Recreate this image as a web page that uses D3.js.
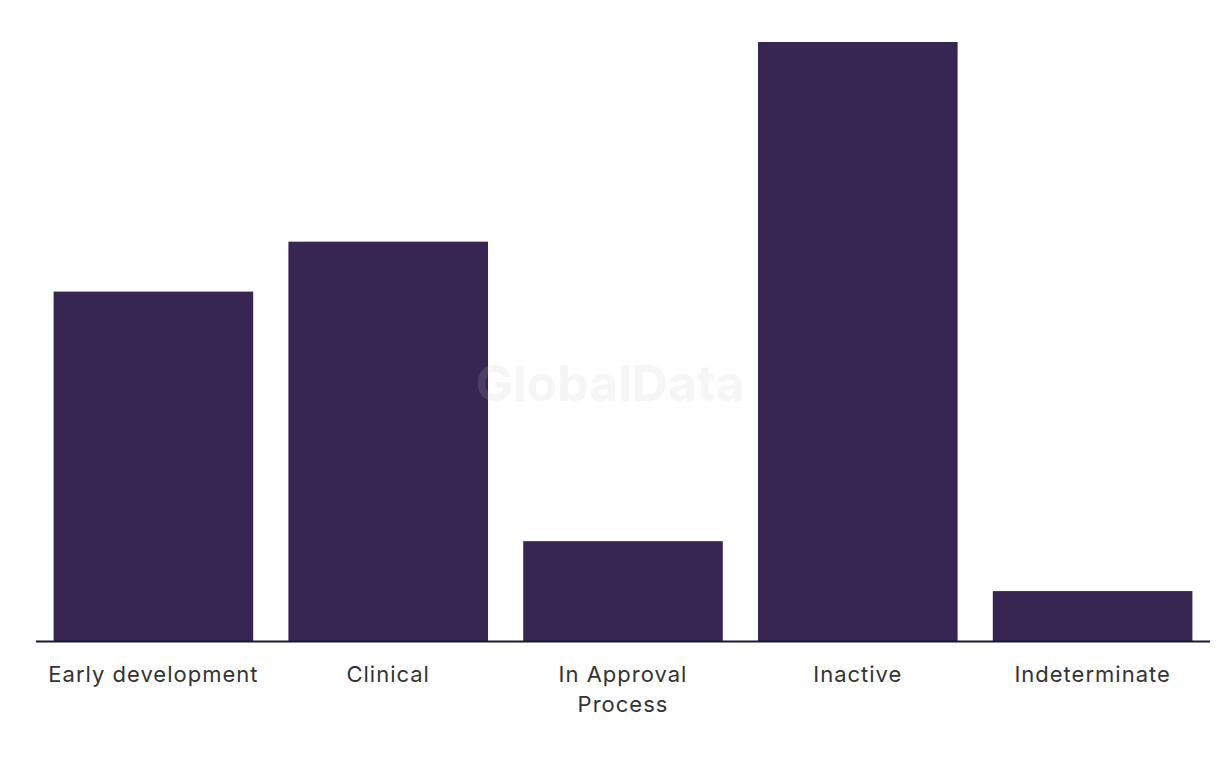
<!DOCTYPE html>
<html><head><meta charset="utf-8">
<script src="https://cdn.jsdelivr.net/npm/d3@7"></script>
<style>html,body{margin:0;padding:0;background:#fff;}svg{display:block;}</style>
</head><body>
<svg id="chart" width="1220" height="766"></svg>
<script>
const categories = ["Early development", "Clinical", "In Approval Process", "Inactive", "Indeterminate"];
const labelLines = [["Early development"], ["Clinical"], ["In Approval", "Process"], ["Inactive"], ["Indeterminate"]];
const values = [7, 8, 2, 12, 1];

const svg = d3.select("#chart");
const x = d3.scaleBand().domain(categories).range([36, 1210]).paddingInner(0.15).paddingOuter(0.075);
const y = d3.scaleLinear().domain([0, 12]).range([641, 42]);

svg.append("g").selectAll("rect").data(categories).join("rect")
  .attr("x", d => x(d)).attr("width", x.bandwidth())
  .attr("y", (d, i) => y(values[i])).attr("height", (d, i) => y(0) - y(values[i]))
  .attr("fill", "#372552");

svg.append("line").attr("x1", 36).attr("x2", 1210).attr("y1", y(0)+0.5).attr("y2", y(0)+0.5)
  .attr("stroke", "#1c1630").attr("stroke-width", 2);

const lab = svg.append("g").selectAll("text").data(categories).join("text")
  .attr("x", d => x(d) + x.bandwidth()/2).attr("y", 682)
  .attr("text-anchor", "middle")
  .attr("font-family", "Inter, Roboto, sans-serif").attr("font-size", 22)
  .attr("letter-spacing", "1px")
  .attr("fill", "#333");
lab.each(function(d, i) {
  const t = d3.select(this);
  labelLines[i].forEach((l, j) => t.append("tspan").attr("x", x(d) + x.bandwidth()/2).attr("dy", j ? 30 : 0).text(l));
});

svg.append("text").attr("x", 610).attr("y", 401).attr("text-anchor", "middle")
  .attr("font-family", "Inter, Roboto, sans-serif").attr("font-weight", 700).attr("font-size", 50)
  .attr("fill", "#c8c8c8").attr("opacity", 0.15).text("GlobalData");
</script>
</body></html>
